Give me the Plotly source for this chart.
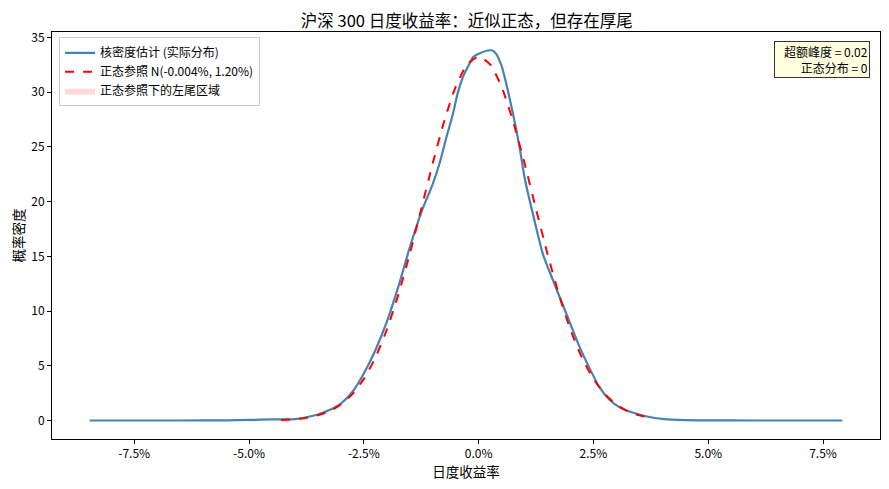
"""
沪深 300 日度收益率分布：核密度估计 vs 正态参照
"""

import plotly.graph_objects as go

# 核密度估计（实际分布），x 单位为 %
kde_x = [-8.47, -7.5, -6.5, -5.5, -5.0, -4.5, -4.0, -3.75, -3.5, -3.25,
         -3.0, -2.75, -2.5, -2.25, -2.0, -1.75, -1.5, -1.25, -1.0, -0.85,
         -0.7, -0.56, -0.45, -0.34, -0.2, -0.12, 0.0, 0.2, 0.3, 0.38,
         0.5, 0.6, 0.75, 0.89, 1.0, 1.18, 1.4, 1.62, 1.91, 2.2,
         2.4, 2.63, 2.85, 3.07, 3.3, 3.5, 3.75, 4.0, 4.5, 5.0,
         6.0, 7.0, 7.92]
kde_y = [0.0, 0.0, 0.0, 0.01, 0.05, 0.1, 0.13, 0.3, 0.55, 0.95,
         1.55, 2.6, 4.3, 6.4, 9.0, 12.2, 15.8, 19.0, 21.6, 23.5,
         25.9, 28.0, 30.0, 31.4, 32.6, 33.2, 33.5, 33.8, 33.8, 33.5,
         32.4, 30.8, 28.0, 25.0, 22.2, 18.9, 15.2, 12.8, 9.75, 6.7,
         4.9, 3.05, 1.9, 1.2, 0.8, 0.55, 0.3, 0.15, 0.03, 0.01,
         0.0, 0.0, 0.0]

# 正态参照 N(-0.004%, 1.20%)
norm_x = [-4.3, -4.0, -3.75, -3.5, -3.25, -3.0, -2.75, -2.5, -2.25, -2.0,
          -1.75, -1.5, -1.25, -1.0, -0.75, -0.5, -0.25, 0.0, 0.25, 0.5,
          0.75, 1.0, 1.25, 1.5, 1.75, 2.0, 2.25, 2.5, 2.75, 3.0,
          3.25, 3.5, 3.8]
norm_y = [0.05, 0.13, 0.25, 0.47, 0.85, 1.46, 2.41, 3.8, 5.73, 8.29,
          11.48, 15.22, 19.32, 23.49, 27.34, 30.48, 32.53, 33.24, 32.53, 30.48,
          27.34, 23.49, 19.32, 15.22, 11.48, 8.29, 5.73, 3.8, 2.41, 1.46,
          0.85, 0.47, 0.22]

# 左尾区域（正态参照下）
tail_x = [-4.3, -4.25]
tail_y = [0.05, 0.06]

x_tickvals = [-7.5, -5.0, -2.5, 0.0, 2.5, 5.0, 7.5]
x_ticktext = ['-7.5%', '-5.0%', '-2.5%', '0.0%', '2.5%', '5.0%', '7.5%']
y_tickvals = [0, 5, 10, 15, 20, 25, 30, 35]

excess_kurtosis = 0.02

FONT = "Noto Sans CJK SC, DejaVu Sans, sans-serif"

fig = go.Figure()

fig.add_trace(go.Scatter(
    x=kde_x, y=kde_y, mode='lines', name='核密度估计 (实际分布)',
    line=dict(color='steelblue', width=2.2, shape='spline', smoothing=0.6),
))
fig.add_trace(go.Scatter(
    x=norm_x, y=norm_y, mode='lines', name='正态参照 N(-0.004%, 1.20%)',
    line=dict(color='red', width=2, dash='dash', shape='spline', smoothing=0.6),
))
fig.add_trace(go.Scatter(
    x=tail_x, y=tail_y, mode='lines', name='正态参照下的左尾区域',
    fill='tozeroy', fillcolor='rgba(255,0,0,0.15)',
    line=dict(width=0, color='rgba(255,0,0,0.15)'),
))

# 页面 body 自带 8px 边距，整体位置按此补偿
fig.add_annotation(
    xref='paper', yref='paper', x=0.988, y=0.979,
    xanchor='right', yanchor='top', align='right',
    text=f"&nbsp;&nbsp;&nbsp;超额峰度 = {excess_kurtosis:.2f}<br>正态分布 = 0",
    showarrow=False, font=dict(size=12, color='black', family=FONT),
    bgcolor='#ffffe0', bordercolor='#333333', borderwidth=1, borderpad=1,
)

axis_common = dict(
    showline=True, linecolor='black', linewidth=1, mirror=True,
    ticks='outside', ticklen=4, tickcolor='black', showgrid=False,
    zeroline=False, automargin=False,
    tickfont=dict(size=12, color='black', family=FONT),
)

fig.update_xaxes(
    range=[-9.29, 8.74], tickvals=x_tickvals, ticktext=x_ticktext,
    title=dict(text='日度收益率', font=dict(size=13.5, color='black', family=FONT), standoff=4),
    **axis_common,
)
fig.update_yaxes(
    range=[-1.69, 35.49], tickvals=y_tickvals,
    title=dict(text='概率密度', font=dict(size=13.5, color='black', family=FONT), standoff=10),
    **axis_common,
)

fig.update_layout(
    width=889, height=489,
    margin=dict(l=44, r=17, t=24, b=58),
    plot_bgcolor='white', paper_bgcolor='white',
    font=dict(family=FONT, color='black'),
    title=dict(text='沪深 300 日度收益率：近似正态，但存在厚尾',
               x=0.516, xanchor='center', y=0.973, yanchor='middle',
               font=dict(size=16.5, color='black', family=FONT), automargin=False),
    showlegend=True,
    legend=dict(x=0.0085, y=0.987, xanchor='left', yanchor='top',
                bgcolor='rgba(255,255,255,0.8)', bordercolor='#cccccc', borderwidth=1,
                font=dict(size=12, color='black', family=FONT),
                tracegroupgap=0, itemwidth=30),
)

fig.write_html("out.html")
